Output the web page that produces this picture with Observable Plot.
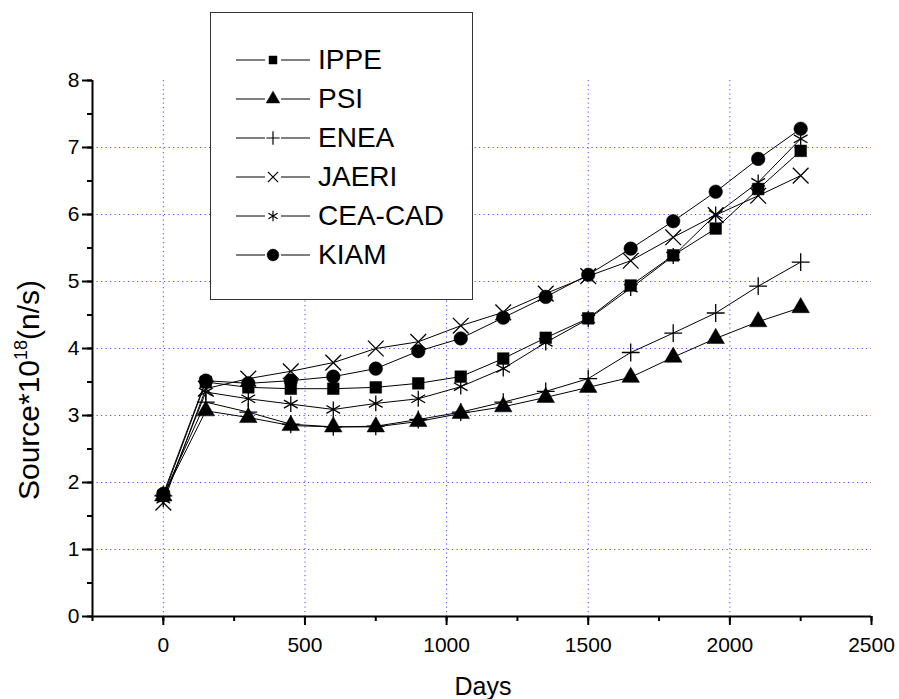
<!DOCTYPE html>
<html><head><meta charset="utf-8">
<script src="https://cdn.jsdelivr.net/npm/d3@7"></script>
<script src="https://cdn.jsdelivr.net/npm/@observablehq/plot@0.6"></script>
<style>
body{margin:0;background:#fff;}
#wrap{position:relative;width:899px;height:699px;font-family:"Liberation Sans",Arial,sans-serif;}
#legend{position:absolute;left:210px;top:12px;width:261px;height:286px;border:1.5px solid #333;background:#fff;}
.row{position:absolute;left:0;height:39px;display:flex;align-items:center;font-size:28px;color:#000;}
.row svg{margin-left:25px;margin-right:8px;}
</style></head><body><div id="wrap"><div id="legend"></div></div>
<script>
const days = [0,150,300,450,600,750,900,1050,1200,1350,1500,1650,1800,1950,2100,2250];
const seriesNames = ["IPPE","PSI","ENEA","JAERI","CEA-CAD","KIAM"];
const IPPE  = [1.80,3.50,3.42,3.40,3.40,3.42,3.48,3.58,3.85,4.16,4.45,4.94,5.39,5.79,6.38,6.95];
const PSI   = [1.80,3.07,2.97,2.85,2.83,2.83,2.91,3.03,3.13,3.27,3.42,3.57,3.87,4.15,4.40,4.61];
const ENEA  = [1.80,3.20,3.05,2.87,2.83,2.84,2.94,3.05,3.20,3.36,3.55,3.94,4.23,4.53,4.93,5.29];
const JAERI = [1.70,3.40,3.55,3.66,3.79,4.00,4.10,4.34,4.54,4.82,5.08,5.31,5.66,5.99,6.28,6.58];
const CEACAD= [1.75,3.35,3.25,3.17,3.09,3.18,3.25,3.43,3.70,4.09,4.44,4.90,5.38,6.00,6.48,7.13];
const KIAM  = [1.83,3.52,3.48,3.52,3.58,3.70,3.96,4.15,4.46,4.77,5.10,5.49,5.90,6.34,6.83,7.28];
const xTickLabels = [0,500,1000,1500,2000,2500];
const yTickLabels = [0,1,2,3,4,5,6,7,8];
const xGrid = [0,500,1000,1500,2000];
const yGrid = [1,2,3,4,5,6,7];

const valuesBySeries = [IPPE,PSI,ENEA,JAERI,CEACAD,KIAM];
const symbolOf = {"IPPE":"square","PSI":"triangle","ENEA":"plus","JAERI":"times","CEA-CAD":"asterisk","KIAM":"circle"};
const rOf = {"IPPE":6.6,"PSI":6.5,"ENEA":5.8,"JAERI":7.2,"CEA-CAD":7.5,"KIAM":6.8};
const filledOf = {"IPPE":true,"PSI":true,"ENEA":false,"JAERI":false,"CEA-CAD":false,"KIAM":true};

const data = [];
seriesNames.forEach((s,i)=>valuesBySeries[i].forEach((v,j)=>data.push({series:s, day:days[j], value:v})));

const dotMarks = seriesNames.map(s => Plot.dot(data.filter(d=>d.series===s), {
  x:"day", y:"value", symbol:()=>symbolOf[s], r:rOf[s],
  fill: filledOf[s] ? "black" : "none", stroke:"black", strokeWidth: filledOf[s] ? 0.5 : 1.3
}));

const chart = Plot.plot({
  width:899, height:699,
  marginLeft:92, marginRight:28, marginTop:80, marginBottom:83,
  style:{fontFamily:"'Liberation Sans', Arial, sans-serif", fontSize:"21px", color:"#000", background:"transparent", overflow:"visible"},
  x:{domain:[-250,2500]},
  y:{domain:[0,8]},
  symbol:{type:"identity"},
  marks:[
    Plot.ruleY(yGrid, {stroke:"#2a2aff", strokeOpacity:0.85, strokeDasharray:"1.2,3.3", strokeWidth:1}),
    Plot.ruleX(xGrid, {stroke:"#2a2aff", strokeOpacity:0.85, strokeDasharray:"1.2,3.3", strokeWidth:1}),
    Plot.axisX({ticks:d3.range(-250,2501,250), tickSize:5, tickFormat:()=>"", label:null, strokeWidth:2, stroke:"black"}),
    Plot.axisX({ticks:xTickLabels, tickSize:9, tickPadding:12, tickFormat:d=>String(d), label:null, strokeWidth:2, stroke:"black", fontSize:21}),
    Plot.axisY({ticks:d3.range(0,8.01,0.5), tickSize:5, tickFormat:()=>"", label:null, strokeWidth:2, stroke:"black"}),
    Plot.axisY({ticks:yTickLabels, tickSize:10, tickPadding:3, tickFormat:d=>String(d), label:null, strokeWidth:2, stroke:"black", fontSize:21}),
    Plot.ruleY([0], {stroke:"black", strokeWidth:2}),
    Plot.ruleX([-250], {stroke:"black", strokeWidth:2}),
    Plot.lineY(data, {x:"day", y:"value", z:"series", stroke:"black", strokeWidth:1}),
    ...dotMarks
  ]
});
const wrap = document.getElementById("wrap");
wrap.insertBefore(chart, wrap.firstChild);

// axis titles
const svg = d3.select(chart);
svg.append("text").attr("x", 483).attr("y", 695).attr("text-anchor","middle")
  .attr("font-size", 25).attr("fill","black").text("Days");
const yt = svg.append("text").attr("transform","translate(39,390) rotate(-90)").attr("text-anchor","middle")
  .attr("font-size", 30).attr("fill","black");
yt.append("tspan").text("Source*10");
yt.append("tspan").attr("font-size",18).attr("dy",-12).text("18");
yt.append("tspan").attr("dy",12).text("(n/s)");

// legend
const legend = document.getElementById("legend");
const legendSym = {"IPPE":[d3.symbolSquare,64,true],"PSI":[d3.symbolTriangle,80,true],"ENEA":[d3.symbolPlus,60,false],
  "JAERI":[d3.symbolTimes,70,false],"CEA-CAD":[d3.symbolAsterisk,80,false],"KIAM":[d3.symbolCircle,110,true]};
seriesNames.forEach((s,i)=>{
  const row = document.createElement("div");
  row.className = "row";
  row.style.top = (27 + i*39) + "px";
  const [sym,size,filled] = legendSym[s];
  const path = d3.symbol(sym, size)();
  row.innerHTML = `<svg width="74" height="20" viewBox="-37 -10 74 20"><line x1="-37" x2="-8" y1="0" y2="0" stroke="black" stroke-width="1"/><line x1="8" x2="37" y1="0" y2="0" stroke="black" stroke-width="1"/><path d="${path}" fill="${filled?'black':'none'}" stroke="black" stroke-width="${filled?0.5:1.2}"/></svg><span>${s}</span>`;
  legend.appendChild(row);
});
</script>
</body></html>
